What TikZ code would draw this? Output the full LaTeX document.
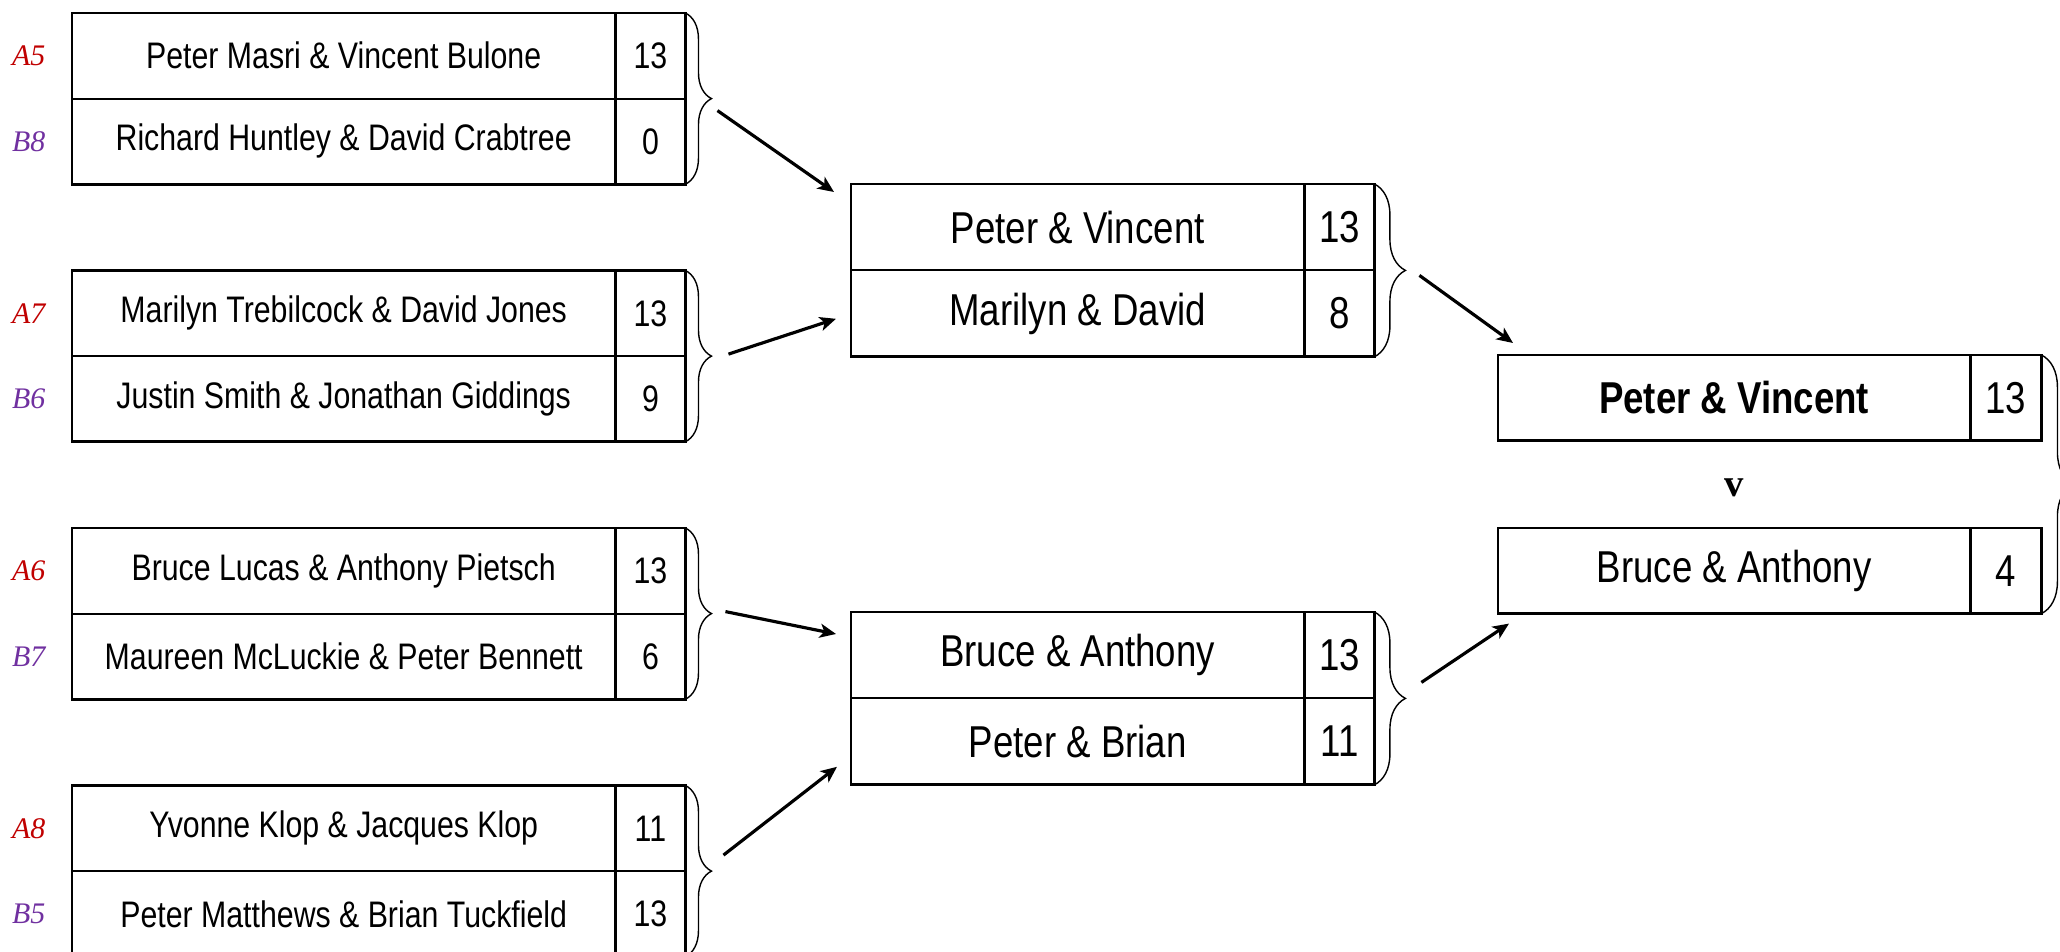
\documentclass[tikz,border=0pt]{standalone}
\usepackage{fontspec}
\usepackage{xcolor}
\usepackage{tikz}
\usetikzlibrary{positioning,calc,arrows.meta,decorations.pathreplacing}
\newfontfamily\narrow[FakeStretch=0.82]{Liberation Sans}
\newfontfamily\seedfont{Liberation Serif}
\definecolor{seedred}{RGB}{192,0,0}
\definecolor{seedpurple}{RGB}{112,48,160}

\begin{document}
\begin{tikzpicture}
	[x=0.01cm,y=-0.01cm,>={Stealth[length=4.6pt,width=4pt,inset=1.2pt]},
	team1/.style={draw,line width=0.3pt,inner sep=0pt,minimum width=5.42cm,minimum height=0.845cm,font=\narrow\fontsize{10.5}{12}\selectfont},
	team2/.style={team1,minimum width=4.52cm,minimum height=0.853cm,font=\narrow\fontsize{12.7}{15}\selectfont},
	team3/.style={team2,minimum width=4.71cm,minimum height=0.845cm},
	score1/.style={team1,minimum width=0.69cm},
	score2/.style={team2,minimum width=0.69cm},
	score3/.style={team3,minimum width=0.70cm},
	seed/.style={font=\seedfont\itshape\fontsize{8.5}{10}\selectfont,inner sep=0pt},
	frame/.style={line width=0.8pt},
	curly/.style={decorate,decoration={brace,amplitude=#1},line width=0.4pt},
	arr/.style={->,line width=0.9pt}]
	\useasboundingbox (0,0) rectangle (2060,952);
	%%%%% ROUND 1
	\foreach \i/\sa/\ta/\pa/\sb/\tb/\pb in {1/A5/Peter Masri \& Vincent Bulone/13/B8/Richard Huntley \& David Crabtree/0,
		2/A7/Marilyn Trebilcock \& David Jones/13/B6/Justin Smith \& Jonathan Giddings/9,
		3/A6/Bruce Lucas \& Anthony Pietsch/13/B7/Maureen McLuckie \& Peter Bennett/6,
		4/A8/Yvonne Klop \& Jacques Klop/11/B5/Peter Matthews \& Brian Tuckfield/13}
	{
	\node[team1,anchor=north west] (t1\i) at (72,{13+(\i-1)*257.5}) {\ta};
	\node[score1,anchor=west] (pt1\i) at (t1\i.east) {\pa};
	\node[team1,anchor=north] (b1\i) at (t1\i.south) {\tb};
	\node[score1,anchor=west] (pb1\i) at (b1\i.east) {\pb};
	\node[seed,text=seedred,left=0.26cm of t1\i] (seedt1\i) {\sa};
	\node[seed,text=seedpurple,left=0.26cm of b1\i] (seedb1\i) {\sb};
	\draw[frame] (t1\i.north west) rectangle (pb1\i.south east);
	\draw[frame] (pt1\i.north west) -- (pb1\i.south west);
	\draw[curly=0.26cm] (pt1\i.north east) -- (pb1\i.south east);
	};
	%%%%% ROUND 2
	\foreach \i/\y/\ta/\pa/\tb/\pb in {1/184/Peter \& Vincent/13/Marilyn \& David/8,
		2/612/Bruce \& Anthony/13/Peter \& Brian/11}
	{
	\node[team2,anchor=north west] (t2\i) at (851,\y) {\ta};
	\node[score2,anchor=west] (pt2\i) at (t2\i.east) {\pa};
	\node[team2,anchor=north] (b2\i) at (t2\i.south) {\tb};
	\node[score2,anchor=west] (pb2\i) at (b2\i.east) {\pb};
	\draw[frame] (t2\i.north west) rectangle (pb2\i.south east);
	\draw[frame] (pt2\i.north west) -- (pb2\i.south west);
	\draw[curly=0.31cm] (pt2\i.north east) -- (pb2\i.south east);
	};
	%%%%% FINAL
	\node[team3,anchor=north west,font=\narrow\bfseries\fontsize{12.7}{15}\selectfont] (fa) at (1498,355) {Peter \& Vincent};
	\node[score3,anchor=west] (pfa) at (fa.east) {13};
	\node[team3,anchor=north west] (fb) at (1498,528) {Bruce \& Anthony};
	\node[score3,anchor=west] (pfb) at (fb.east) {4};
	\node[font=\seedfont\bfseries\fontsize{11}{13}\selectfont,inner sep=0pt] (vs) at ($(fa.south)!0.5!(fb.north)+(0,4)$) {v};
	\draw[frame] (fa.north west) rectangle (pfa.south east);
	\draw[frame] (pfa.north west) -- (pfa.south west);
	\draw[frame] (fb.north west) rectangle (pfb.south east);
	\draw[frame] (pfb.north west) -- (pfb.south west);
	\draw[curly=0.32cm] (pfa.north east) -- (pfb.south east);
	%%%%% ARROWS
	\foreach \i/\dx/\dy/\tgt/\ex/\ey in {1/32/12/t21.north west/-17/8, 2/43/-2/b21.south west/-15/-38,
		3/40/-2/t22.north west/-15/22, 4/38/-16/b22.south west/-14/-18}
	{
	\coordinate (out1\i) at ($(pt1\i.south east)+(\dx,\dy)$);
	\coordinate (in1\i) at ($(\tgt)+(\ex,\ey)$);
	\draw[arr] (out1\i) -- (in1\i);
	};
	\foreach \i/\dx/\dy/\tgt/\ex/\ey in {1/45/5/fa.north west/15/-12, 2/47/-16/fb.south west/11/10}
	{
	\coordinate (out2\i) at ($(pt2\i.south east)+(\dx,\dy)$);
	\coordinate (in2\i) at ($(\tgt)+(\ex,\ey)$);
	\draw[arr] (out2\i) -- (in2\i);
	};
\end{tikzpicture}
\end{document}
